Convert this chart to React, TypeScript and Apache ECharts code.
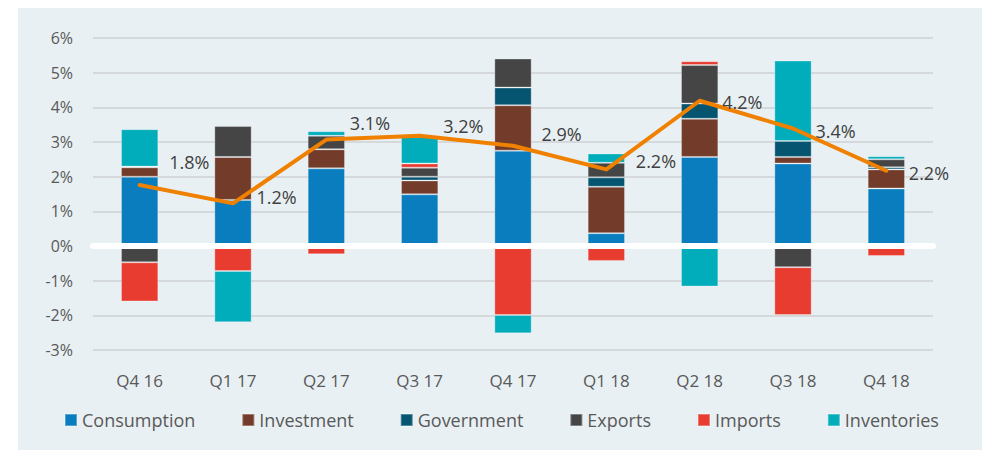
import React, { useEffect, useRef } from "react";
import * as echarts from "echarts";

const categories = ["Q4 16", "Q1 17", "Q2 17", "Q3 17", "Q4 17", "Q1 18", "Q2 18", "Q3 18", "Q4 18"];
const consumption = [2.0, 1.33, 2.24, 1.49, 2.75, 0.37, 2.57, 2.38, 1.66];
const investment = [0.27, 1.24, 0.55, 0.4, 1.31, 1.34, 1.1, 0.19, 0.55];
const government = [0.02, 0, 0, 0.11, 0.51, 0.27, 0.44, 0.46, 0.06];
const exportsData = [-0.47, 0.89, 0.39, 0.26, 0.84, 0.42, 1.11, -0.61, 0.23];
const imports = [-1.13, -0.72, -0.24, 0.12, -1.99, -0.43, 0.11, -1.38, -0.29];
const inventories = [1.08, -1.48, 0.13, 0.78, -0.53, 0.27, -1.17, 2.32, 0.09];
const gdpGrowth = [1.76, 1.23, 3.07, 3.18, 2.89, 2.21, 4.19, 3.39, 2.17];
const yMin = -3;
const yMax = 6;
const yStep = 1;

const labelOffsets = [
  [29, -23], [23, -6], [23, -17], [23, -10], [28, -12], [29, -8], [22, 1], [22, 3], [22, 2],
];

const FONT = "'Open Sans', sans-serif";

const seriesDefs = [
  { name: "Consumption", data: consumption, color: "#0A7DBE" },
  { name: "Investment", data: investment, color: "#733B2A" },
  { name: "Government", data: government, color: "#055470" },
  { name: "Exports", data: exportsData, color: "#454545" },
  { name: "Imports", data: imports, color: "#E83C30" },
  { name: "Inventories", data: inventories, color: "#01ADBA" },
];

export default function App() {
  const ref = useRef<HTMLDivElement>(null);
  useEffect(() => {
    document.body.style.margin = "0";
    const chart = echarts.init(ref.current!, null, { renderer: "svg" });
    const option: any = {
      animation: false,
      textStyle: { fontFamily: FONT },
      grid: { left: 93, right: 49, top: 38, bottom: 100 },
      legend: {
        data: seriesDefs.map((s) => s.name),
        left: 59,
        top: 406,
        icon: "rect",
        itemWidth: 12,
        itemHeight: 12,
        itemGap: 46,
        textStyle: { fontSize: 18, color: "#595959", fontFamily: FONT },
      },
      xAxis: [
        {
          type: "category",
          data: categories,
          position: "bottom",
          axisLine: { show: false, onZero: false },
          axisTick: { show: false },
          axisLabel: { fontSize: 17, color: "#595959", margin: 22, fontFamily: FONT },
          splitLine: { show: false },
        },
        {
          type: "category",
          data: categories,
          position: "top",
          z: 3,
          axisLine: { show: true, onZero: true, lineStyle: { color: "#ffffff", width: 6 } },
          axisTick: { show: false },
          axisLabel: { show: false },
          splitLine: { show: false },
        },
      ],
      yAxis: {
        type: "value",
        min: yMin,
        max: yMax,
        interval: yStep,
        axisLine: { show: false },
        axisTick: { show: false },
        axisLabel: { formatter: "{value}%", fontSize: 16, color: "#595959", margin: 20, fontFamily: FONT },
        splitLine: { lineStyle: { color: "#d6d9db", width: 2 } },
      },
      series: [
        ...seriesDefs.map((s) => ({
          name: s.name,
          type: "bar",
          stack: "total",
          barWidth: "40%",
          data: s.data,
          itemStyle: { color: s.color, borderColor: "rgba(255,255,255,0.3)", borderWidth: 1 },
          emphasis: { disabled: true },
        })),
        {
          name: "GDP",
          type: "line",
          data: gdpGrowth.map((v, i) => ({
            value: v,
            label: { offset: labelOffsets[i] },
          })),
          symbol: "circle",
          symbolSize: 1,
          showSymbol: true,
          itemStyle: { color: "rgba(0,0,0,0)" },
          lineStyle: { color: "#F08000", width: 4, cap: "round", join: "round" },
          label: {
            show: true,
            position: "right",
            distance: 0,
            fontSize: 18,
            color: "#404040",
            fontFamily: FONT,
            formatter: (p: any) => Number(p.value).toFixed(1) + "%",
          },
          emphasis: { disabled: true },
          z: 5,
        },
      ],
    };
    chart.setOption(option);
    return () => chart.dispose();
  }, []);
  return (
    <div style={{ position: "relative", width: 982, height: 450 }}>
      <div style={{ position: "absolute", left: 18, top: 8, width: 964, height: 442, background: "#E8F0F3" }} />
      <div ref={ref} style={{ position: "absolute", left: 0, top: 0, width: 982, height: 450 }} />
    </div>
  );
}
